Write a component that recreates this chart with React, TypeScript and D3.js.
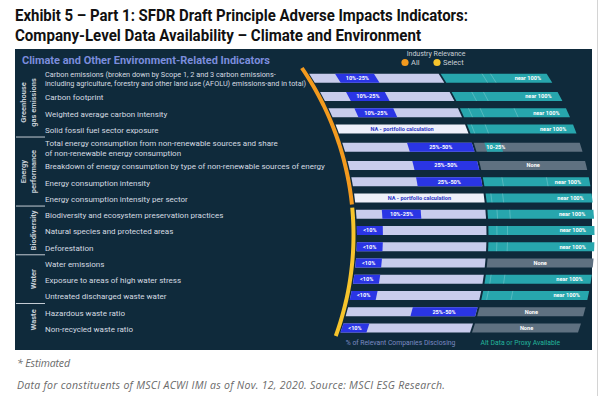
import React, { useEffect, useRef } from "react";
import * as d3 from "d3";

const titleLines = [
  "Exhibit 5 – Part 1: SFDR Draft Principle Adverse Impacts Indicators:",
  "Company-Level Data Availability – Climate and Environment",
];

const groupNames = [["Greenhouse", "gas emissions"], ["Energy", "performance"], ["Biodiversity"], ["Water"], ["Waste"]];
const groupSizes = [4, 4, 3, 3, 2];
const groupRelevance = ["All", "All", "Select", "Select", "Select"];

const indicatorLabels = [
  ["Carbon emissions (broken down by Scope 1, 2 and 3 carbon emissions-", "including agriculture, forestry and other land use (AFOLU) emissions-and in total)"],
  ["Carbon footprint"],
  ["Weighted average carbon intensity"],
  ["Solid fossil fuel sector exposure"],
  ["Total energy consumption from non-renewable sources and share", "of non-renewable energy consumption"],
  ["Breakdown of energy consumption by type of non-renewable sources of energy"],
  ["Energy consumption intensity"],
  ["Energy consumption intensity per sector"],
  ["Biodiversity and ecosystem preservation practices"],
  ["Natural species and protected areas"],
  ["Deforestation"],
  ["Water emissions"],
  ["Exposure to areas of high water stress"],
  ["Untreated discharged waste water"],
  ["Hazardous waste ratio"],
  ["Non-recycled waste ratio"],
];

// % of relevant companies disclosing (null = NA, portfolio calculation)
const disclosingLow = [10, 10, 10, null, 25, 25, 25, null, 10, 0, 0, 0, 0, 0, 25, 0];
const disclosingHigh = [25, 25, 25, null, 50, 50, 50, null, 25, 10, 10, 10, 10, 10, 50, 10];
const disclosingText = ["10%-25%", "10%-25%", "10%-25%", "NA - portfolio calculation", "25%-50%", "25%-50%", "25%-50%",
  "NA - portfolio calculation", "10%-25%", "<10%", "<10%", "<10%", "<10%", "<10%", "25%-50%", "<10%"];

// alt data or proxy available (null = none)
const altLow = [0, 0, 0, 0, 10, null, 0, 0, 0, 0, 0, null, 0, 0, null, null];
const altHigh = [100, 100, 100, 100, 25, null, 100, 100, 100, 100, 100, null, 100, 100, null, null];
const altText = ["near 100%", "near 100%", "near 100%", "near 100%", "10-25%", "None", "near 100%", "near 100%",
  "near 100%", "near 100%", "near 100%", "None", "near 100%", "near 100%", "None", "None"];
const altDividers = [[39, 47], [19, 30], [8, 19, 51], [4, 17], [], [], [18, 60], [5, 16], [9, 21], [8, 18], [8, 18], [], [5, 18], [5, 28], [], []];

const relevanceColor = { All: "#f39a1e", Select: "#f6c42c" };

const W = 600, H = 396;
const panel = { x: 15, y: 49, w: 577, h: 301 };
const arcC = { x: 57.5, y: 235, r: 296 };
const arcX = (y) => arcC.x + Math.sqrt(arcC.r * arcC.r - (y - arcC.y) * (y - arcC.y));
const barH = 9;

const App = () => {
  const svgRef = useRef(null);

  useEffect(() => {
    const svg = d3.select(svgRef.current);
    svg.selectAll("*").remove();

    // title
    titleLines.forEach((t, i) => {
      svg.append("text")
        .attr("x", 15).attr("y", 20.5 + i * 20.5)
        .attr("textLength", i === 0 ? 453 : 406).attr("lengthAdjust", "spacingAndGlyphs")
        .style("font-family", "Roboto, sans-serif").style("font-weight", "bold").style("font-size", "16px")
        .attr("fill", "#111").text(t);
    });

    svg.append("rect").attr("x", panel.x).attr("y", panel.y).attr("width", panel.w).attr("height", panel.h).attr("fill", "#0f2a3b");

    svg.append("text").attr("x", 22).attr("y", 63.5)
      .attr("textLength", 248).attr("lengthAdjust", "spacingAndGlyphs")
      .style("font-family", "Roboto, sans-serif").style("font-weight", "bold").style("font-size", "10px")
      .attr("fill", "#7b8ddd").text("Climate and Other Environment-Related Indicators");

    // legend
    const leg = svg.append("g").style("font-family", "Roboto, sans-serif");
    leg.append("text").attr("x", 436).attr("y", 55.5).attr("text-anchor", "middle").style("font-size", "7px").attr("fill", "#c9cfd6").text("Industry Relevance");
    [["All", 405], ["Select", 437]].forEach(([k, x]) => {
      leg.append("circle").attr("cx", x).attr("cy", 62.5).attr("r", 3.6).attr("fill", relevanceColor[k]);
      leg.append("text").attr("x", +x + 6).attr("y", 65.3).style("font-size", "7.5px").attr("fill", "#c9cfd6").text(k);
    });

    // rows
    const weights = indicatorLabels.map(l => (l.length > 1 ? 1.25 : 1));
    const starts = d3.cumsum([0, ...weights]);
    const yUnit = d3.scaleLinear().domain([0, d3.sum(weights)]).range([68, 336]);
    const rowY = weights.map((w, i) => yUnit(starts[i] + w / 2));
    const discScale = d3.scaleLinear().domain([0, 50]).range([3.5, 133]);
    const altScale = d3.scaleLinear().domain([0, 100]).range([135, 241]);

    const seg = (yc, d0, d1) => {
      const t = yc - barH / 2, b = yc + barH / 2;
      return `M${arcX(t) + d0},${t}L${arcX(t) + d1},${t}L${arcX(b) + d1},${b}L${arcX(b) + d0},${b}Z`;
    };

    const labelG = svg.append("g").style("font-family", "Roboto, sans-serif").attr("fill", "#d5dbe1");
    const barG = svg.append("g");
    const barText = svg.append("g").style("font-family", "Roboto, sans-serif").style("font-weight", "bold").style("font-size", "5.6px");

    indicatorLabels.forEach((lines, i) => {
      const yc = rowY[i];
      const fs = lines.length > 1 && i === 0 ? 7.3 : 8;
      lines.forEach((l, j) => {
        labelG.append("text").attr("x", 45)
          .attr("y", yc + 1 + (j - (lines.length - 1) / 2) * 9.3 + fs * 0.36)
          .style("font-size", fs + "px").text(l);
      });

      // disclosing bar
      const isNA = disclosingLow[i] === null;
      barG.append("path").attr("d", seg(yc, discScale(0), discScale(50))).attr("fill", isNA ? "#eef0fa" : "#c8ccec");
      if (!isNA) {
        barG.append("path").attr("d", seg(yc, discScale(disclosingLow[i]), discScale(disclosingHigh[i]))).attr("fill", "#2a35e4");
        barText.append("text").attr("x", arcX(yc) + (discScale(disclosingLow[i]) + discScale(disclosingHigh[i])) / 2).attr("y", yc + 2)
          .attr("text-anchor", "middle").attr("fill", "#fff").text(disclosingText[i]);
      } else {
        barText.append("text").attr("x", arcX(yc) + (discScale(0) + discScale(50)) / 2).attr("y", yc + 2)
          .attr("text-anchor", "middle").attr("fill", "#2a35c4").text(disclosingText[i]);
      }

      // alt data bar
      const full = altLow[i] === 0 && altHigh[i] === 100;
      barG.append("path").attr("d", seg(yc, altScale(0), altScale(100))).attr("fill", full ? "#27a6ad" : "#5f7181");
      if (altLow[i] !== null && !full) {
        barG.append("path").attr("d", seg(yc, altScale(altLow[i]), altScale(altHigh[i]))).attr("fill", "#27a6ad");
      }
      altDividers[i].forEach(v => {
        const t = yc - barH / 2, b = yc + barH / 2;
        barG.append("line").attr("x1", arcX(t) + altScale(v)).attr("y1", t).attr("x2", arcX(b) + altScale(v)).attr("y2", b)
          .attr("stroke", "#ffffff").attr("stroke-opacity", 0.3).attr("stroke-width", 0.7);
      });
      const tx = altLow[i] === null ? [arcX(yc) + altScale(50), "middle"]
        : full ? [arcX(yc) + altScale(92), "end"] : [arcX(yc) + altScale(altLow[i]) + 0.5, "start"];
      barText.append("text").attr("x", tx[0]).attr("y", yc + 2).attr("text-anchor", tx[1]).attr("fill", "#fff").text(altText[i]);
    });

    // groups, separators and relevance arcs
    const groupStart = d3.cumsum([0, ...groupSizes]);
    const arcLine = d3.line().x(d => arcX(d)).y(d => d);
    groupNames.forEach((names, g) => {
      const top = yUnit(starts[groupStart[g]]);
      const bot = yUnit(starts[groupStart[g + 1]]);
      const cy = (top + bot) / 2;
      if (g > 0) {
        svg.append("line").attr("x1", 16).attr("x2", 45).attr("y1", top).attr("y2", top).attr("stroke", "#c3cbd3").attr("stroke-width", 1);
      }
      names.forEach((n, j) => {
        const x = 33 - (names.length - 1 - j) * 10;
        svg.append("text").attr("transform", `translate(${x + 2.6},${cy}) rotate(-90)`)
          .attr("text-anchor", "middle")
          .style("font-family", "Roboto, sans-serif").style("font-weight", "bold").style("font-size", "7.5px")
          .attr("fill", "#c9d0d8").text(n);
      });
    });
    // arcs by relevance (All: first two groups, Select: rest)
    const relSpans = d3.groups(groupRelevance.map((r, g) => ({ r, g })), d => d.r);
    relSpans.forEach(([r, gs]) => {
      const y0 = yUnit(starts[groupStart[gs[0].g]]) + (gs[0].g === 0 ? 0 : 1.5);
      const y1 = yUnit(starts[groupStart[gs[gs.length - 1].g + 1]]) - (r === "All" ? 1.5 : 0);
      svg.append("path").attr("d", arcLine(d3.range(y0, y1, 1).concat([y1])))
        .attr("fill", "none").attr("stroke", relevanceColor[r]).attr("stroke-width", 4);
    });

    // column captions
    const capY = 345;
    svg.append("text").attr("x", arcX(capY) + (discScale(0) + discScale(50)) / 2).attr("y", capY)
      .attr("text-anchor", "middle").style("font-family", "Roboto, sans-serif").style("font-size", "6.8px")
      .attr("fill", "#7b8bc4").text("% of Relevant Companies Disclosing");
    svg.append("text").attr("x", arcX(capY) + (altScale(0) + altScale(100)) / 2).attr("y", capY)
      .attr("text-anchor", "middle").style("font-family", "Roboto, sans-serif").style("font-size", "6.8px")
      .attr("fill", "#23b79b").text("Alt Data or Proxy Available");

    // notes
    [["* Estimated", 367, 53], ["Data for constituents of MSCI ACWI IMI as of Nov. 12, 2020. Source: MSCI ESG Research.", 389, 428]].forEach(([t, y, len]) => {
      svg.append("text").attr("x", 17).attr("y", y)
        .attr("textLength", len).attr("lengthAdjust", "spacing")
        .style("font-family", "'Open Sans', sans-serif").style("font-style", "italic").style("font-size", "10.5px")
        .attr("fill", "#6a6a6a").text(t);
    });

    svg.append("line").attr("x1", 597.5).attr("x2", 597.5).attr("y1", 0).attr("y2", H).attr("stroke", "#d4d4d4");
  }, []);

  return (
    <svg ref={svgRef} width={W} height={H} style={{ position: "absolute", left: 0, top: 0, background: "#fff" }} />
  );
};

export default App;
